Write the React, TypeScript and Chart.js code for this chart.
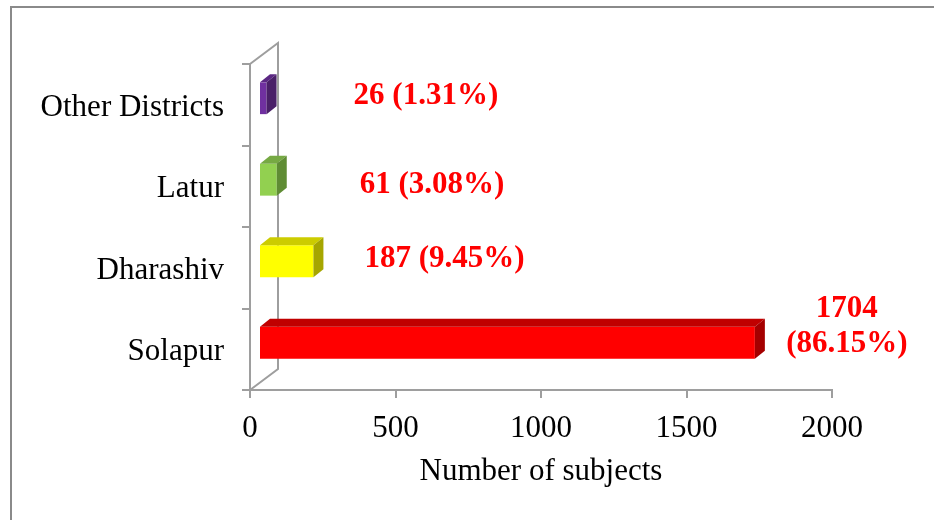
import React, { useEffect, useRef } from "react";
import { Chart, registerables } from "chart.js";

Chart.register(...registerables);

// ---- data ----
const categories: string[] = ["Other Districts", "Latur", "Dharashiv", "Solapur"];
const counts: number[] = [26, 61, 187, 1704];
const xTickMin = 0;
const xTickMax = 2000;
const xTickStep = 500;
const xAxisTitle = "Number of subjects";

// ---- styles ----
const frontColors = ["#7030A0", "#92D050", "#FFFF00", "#FF0000"];
const topColors = ["#5B2783", "#76A943", "#CCCC00", "#C00000"];
const sideColors = ["#4A2068", "#5F8C34", "#A6A600", "#A50000"];
const AXIS_GRAY = "#9e9e9e";
const SERIF = "'Liberation Serif', 'Times New Roman', serif";

// 3D geometry (pixels)
const WALL_DX = 28;
const WALL_DY = -21;
const BAR_SHIFT_X = 9;
const BAR_SHIFT_Y = -6.5;
const BAR_DEPTH_X = 10;
const BAR_DEPTH_Y = -8;

// label placement relative to bar front end / band centre (pixels)
const labelLayout = [
  { dx: 87, dy: -1, align: "left", wrap: false },
  { dx: 83, dy: 6.5, align: "left", wrap: false },
  { dx: 51, dy: -1, align: "left", wrap: false },
  { dx: 92, dy: -32, align: "center", wrap: true },
];

const total = counts.reduce((a, b) => a + b, 0);

const frame3dPlugin = {
  id: "frame3d",
  beforeDraw(chart: any) {
    const ctx = chart.ctx;
    ctx.save();
    ctx.strokeStyle = "#8a8a8a";
    ctx.lineWidth = 2;
    ctx.beginPath();
    ctx.moveTo(11, 520);
    ctx.lineTo(11, 7);
    ctx.lineTo(934, 7);
    ctx.stroke();
    ctx.restore();
  },
  beforeDatasetsDraw(chart: any) {
    const ctx = chart.ctx;
    const { top, bottom } = chart.chartArea;
    const x0 = chart.scales.x.getPixelForValue(0);
    ctx.save();
    ctx.strokeStyle = AXIS_GRAY;
    ctx.lineWidth = 2;
    ctx.beginPath();
    ctx.moveTo(x0, top);
    ctx.lineTo(x0 + WALL_DX, top + WALL_DY);
    ctx.lineTo(x0 + WALL_DX, bottom + WALL_DY);
    ctx.lineTo(x0, bottom);
    ctx.stroke();
    ctx.restore();
  },
  beforeDatasetDraw(chart: any) {
    chart.ctx.save();
    chart.ctx.translate(BAR_SHIFT_X, BAR_SHIFT_Y);
  },
  afterDatasetDraw(chart: any, args: any) {
    const ctx = chart.ctx;
    const meta = args.meta;
    meta.data.forEach((el: any, i: number) => {
      const { x, y, base, height } = el.getProps(["x", "y", "base", "height"], true);
      const t = y - height / 2;
      const b = y + height / 2;
      ctx.fillStyle = topColors[i];
      ctx.beginPath();
      ctx.moveTo(base, t);
      ctx.lineTo(base + BAR_DEPTH_X, t + BAR_DEPTH_Y);
      ctx.lineTo(x + BAR_DEPTH_X, t + BAR_DEPTH_Y);
      ctx.lineTo(x, t);
      ctx.closePath();
      ctx.fill();
      ctx.fillStyle = sideColors[i];
      ctx.beginPath();
      ctx.moveTo(x, t);
      ctx.lineTo(x + BAR_DEPTH_X, t + BAR_DEPTH_Y);
      ctx.lineTo(x + BAR_DEPTH_X, b + BAR_DEPTH_Y);
      ctx.lineTo(x, b);
      ctx.closePath();
      ctx.fill();
    });
    ctx.restore();
  },
  afterDraw(chart: any) {
    const ctx = chart.ctx;
    const meta = chart.getDatasetMeta(0);
    ctx.save();
    ctx.fillStyle = "#FF0000";
    ctx.font = `bold 31px ${SERIF}`;
    ctx.textBaseline = "alphabetic";
    meta.data.forEach((el: any, i: number) => {
      const { x, y } = el.getProps(["x", "y"], true);
      const v = counts[i];
      const pct = ((v / total) * 100).toFixed(2) + "%";
      const L = labelLayout[i];
      const lx = x + BAR_SHIFT_X + L.dx;
      const ly = y + L.dy;
      ctx.textAlign = L.align as CanvasTextAlign;
      if (L.wrap) {
        ctx.fillText(String(v), lx, ly);
        ctx.fillText(`(${pct})`, lx, ly + 35);
      } else {
        ctx.fillText(`${v} (${pct})`, lx, ly);
      }
    });
    ctx.restore();
  },
};

export default function App() {
  const ref = useRef<HTMLCanvasElement | null>(null);
  useEffect(() => {
    if (!ref.current) return;
    const font = { family: SERIF, size: 31, weight: "normal" as const, lineHeight: 1.2 };
    const chart = new Chart(ref.current, {
      type: "bar",
      data: {
        labels: categories,
        datasets: [
          {
            data: counts,
            backgroundColor: frontColors,
            borderWidth: 0,
            categoryPercentage: 1,
            barPercentage: 0.39,
            clip: false as any,
          },
        ],
      },
      options: {
        indexAxis: "y",
        responsive: false,
        animation: false,
        layout: { padding: { top: 64, right: 102, bottom: 0, left: 0 } },
        plugins: { legend: { display: false }, tooltip: { enabled: false } },
        scales: {
          x: {
            min: xTickMin,
            max: xTickMax,
            ticks: {
              stepSize: xTickStep,
              font,
              color: "#000",
              padding: 12,
              maxRotation: 0,
              callback: (v: any) => String(v),
            },
            grid: { drawOnChartArea: false, drawTicks: true, tickLength: 8, color: AXIS_GRAY, lineWidth: 2 },
            border: { color: AXIS_GRAY, width: 2 },
            title: { display: true, text: xAxisTitle, font, color: "#000", padding: { top: 0, bottom: 30 } },
            afterFit: (s: any) => {
              s.height = 130;
            },
          } as any,
          y: {
            ticks: { font, color: "#000", padding: 18, labelOffset: 3 },
            grid: { drawOnChartArea: false, drawTicks: true, tickLength: 8, color: AXIS_GRAY, lineWidth: 2, offset: true },
            border: { color: AXIS_GRAY, width: 2 },
            afterFit: (s: any) => {
              s.width = 250;
            },
          } as any,
        },
      },
      plugins: [frame3dPlugin as any],
    });
    return () => chart.destroy();
  }, []);
  return (
    <div style={{ position: "fixed", left: 0, top: 0, width: 934, height: 520, background: "#fff" }}>
      <canvas ref={ref} width={934} height={520} style={{ display: "block" }} />
    </div>
  );
}
